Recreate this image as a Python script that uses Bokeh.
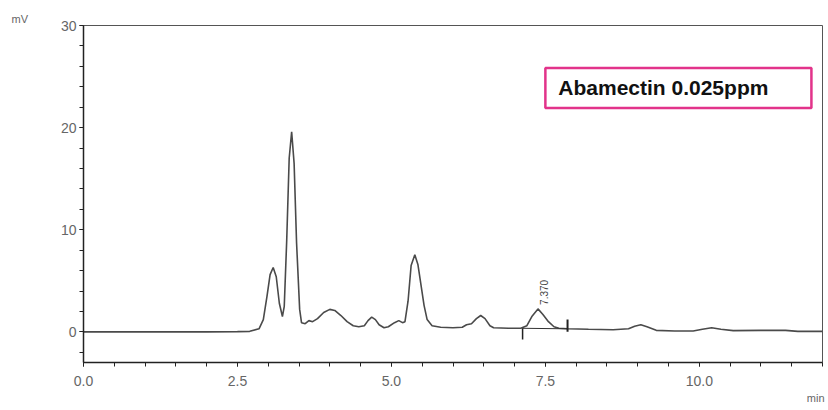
import math
from bokeh.plotting import figure
from bokeh.models import (Range1d, SingleIntervalTicker, NumeralTickFormatter,
                          Label, BoxAnnotation, ColumnDataSource, Title)
from bokeh.core.properties import value
from bokeh.embed import file_html
from bokeh.resources import INLINE

# ---- chromatogram trace (time in min, signal in mV) ----
time_min = [0.0, 1.0, 2.0, 2.5, 2.7, 2.85, 2.92, 2.98, 3.03, 3.08, 3.13, 3.18, 3.23,
            3.26, 3.30, 3.34, 3.38, 3.42, 3.46, 3.51, 3.54, 3.60, 3.66, 3.72, 3.80,
            3.90, 4.00, 4.08, 4.18, 4.28, 4.38, 4.47, 4.56, 4.62, 4.68, 4.74, 4.80,
            4.88, 4.95, 5.05, 5.12, 5.18, 5.22, 5.27, 5.32, 5.38, 5.43, 5.48, 5.53,
            5.58, 5.66, 5.80, 6.00, 6.15, 6.22, 6.30, 6.38, 6.45, 6.52, 6.60, 6.66,
            6.90, 7.10, 7.20, 7.28, 7.38, 7.46, 7.55, 7.64, 7.72, 7.86, 8.20, 8.60,
            8.85, 8.95, 9.05, 9.15, 9.30, 9.60, 9.90, 10.05, 10.20, 10.35, 10.55,
            11.00, 11.40, 11.60, 12.00]
signal_mv = [0.0, 0.0, 0.0, 0.02, 0.05, 0.3, 1.2, 3.5, 5.6, 6.3, 5.4, 2.8, 1.5,
             2.5, 9.0, 17.0, 19.6, 16.5, 8.7, 2.2, 0.9, 0.8, 1.1, 1.0, 1.3,
             1.9, 2.2, 2.1, 1.6, 1.0, 0.6, 0.5, 0.6, 1.1, 1.45, 1.2, 0.7,
             0.4, 0.5, 0.9, 1.1, 0.9, 1.0, 3.0, 6.5, 7.55, 6.6, 4.6, 2.6,
             1.2, 0.6, 0.45, 0.4, 0.45, 0.7, 0.8, 1.3, 1.6, 1.3, 0.6, 0.4,
             0.35, 0.35, 0.6, 1.5, 2.25, 1.7, 1.0, 0.5, 0.35, 0.3, 0.25, 0.2,
             0.3, 0.55, 0.7, 0.5, 0.15, 0.08, 0.08, 0.25, 0.4, 0.25, 0.12,
             0.15, 0.15, 0.05, 0.05]

# ---- integrated peak ----
peak_labels = ["7.370"]
peak_time = [7.37]
peak_height = [2.25]
peak_start = [7.13]
peak_end = [7.86]
peak_base_start = [0.35]
peak_base_end = [0.3]

x_tick_interval = 2.5
y_tick_interval = 10
title_text = "Abamectin 0.025ppm"

FONT = "Liberation Sans"

p = figure(width=826, height=406, output_backend="svg", toolbar_location=None,
           x_range=Range1d(0, 12), y_range=Range1d(-3, 30),
           min_border_left=83, min_border_right=4, min_border_top=25,
           min_border_bottom=44)

p.xgrid.visible = False
p.ygrid.visible = False
p.outline_line_color = "#555555"
p.outline_line_width = 1
p.background_fill_color = "white"
p.border_fill_color = "white"

for ax in (p.xaxis[0], p.yaxis[0]):
    ax.axis_line_color = "#222222"
    ax.axis_line_width = 1.5
    ax.major_tick_line_color = "#222222"
    ax.minor_tick_line_color = "#222222"
    ax.major_tick_in = 0
    ax.minor_tick_in = 0
    ax.major_tick_out = 4
    ax.minor_tick_out = 4
    ax.major_label_text_color = "#666666"
    ax.major_label_text_font = FONT
    ax.major_label_text_font_size = "14px"

p.xaxis.ticker = SingleIntervalTicker(interval=x_tick_interval, num_minor_ticks=5)
p.xaxis.formatter = NumeralTickFormatter(format="0.0")
p.xaxis.major_label_standoff = 9
p.yaxis.ticker = SingleIntervalTicker(interval=y_tick_interval, num_minor_ticks=5)
p.yaxis.major_label_standoff = 3

# trace
p.line(time_min, signal_mv, line_color="#4a4a4a", line_width=1.6)

# integration baseline and markers
p.segment(x0=peak_start, y0=peak_base_start, x1=peak_end, y1=peak_base_end,
          line_color="#333333", line_width=1)
p.segment(x0=peak_start, y0=peak_base_start, x1=peak_start,
          y1=[v - 1.1 for v in peak_base_start], line_color="#222222", line_width=1.5)
p.segment(x0=peak_end, y0=[v + 0.9 for v in peak_base_end], x1=peak_end,
          y1=[v - 0.3 for v in peak_base_end], line_color="#222222", line_width=2)

src = ColumnDataSource(dict(x=peak_time, y=peak_height, t=peak_labels))
p.text(x="x", y="y", text="t", source=src, angle=math.pi / 2,
       x_offset=7, y_offset=-4, text_align="left", text_baseline="middle",
       text_font=value(FONT), text_font_size="10px", text_color="#444444")

# axis unit labels (as titles outside the frame)
p.add_layout(Title(text="mV", align="left", offset=-72, standoff=2,
                   text_font=FONT, text_font_size="11px",
                   text_font_style="normal", text_color="#666666"), "above")
p.add_layout(Title(text="min", align="right", offset=-2, standoff=2,
                   text_font=FONT, text_font_size="11px",
                   text_font_style="normal", text_color="#666666"), "below")

# title box
p.add_layout(BoxAnnotation(left=7.5, right=11.82, top=25.84, bottom=21.93,
                           fill_alpha=0, line_color="#e2338a", line_alpha=1,
                           line_width=2.5))
p.add_layout(Label(x=7.71, y=23.88, text=title_text, text_align="left",
                   text_baseline="middle", text_font=FONT,
                   text_font_size="21px", text_font_style="bold",
                   text_color="#111111"))

open("out.html", "w").write(file_html(p, INLINE))
